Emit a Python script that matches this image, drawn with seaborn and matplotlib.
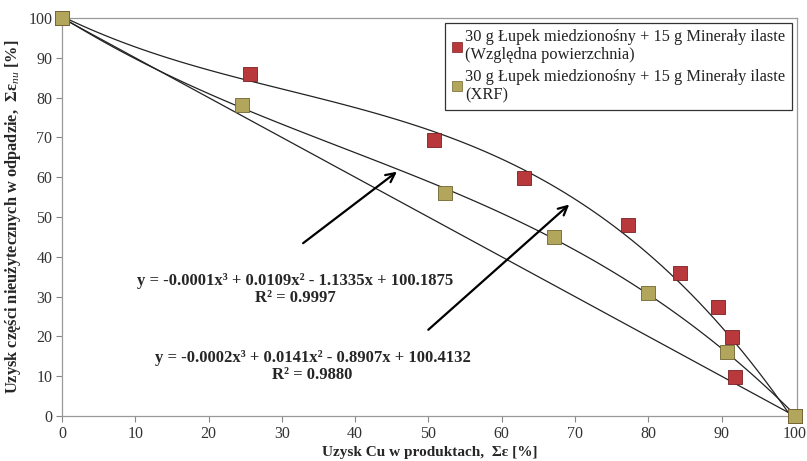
import numpy as np
import pandas as pd
import matplotlib
matplotlib.use("Agg")
import matplotlib.pyplot as plt
import seaborn as sns
from matplotlib.lines import Line2D

# ---- data ----
red_x = [0, 25.6, 50.7, 63.1, 77.3, 84.3, 89.5, 91.4, 91.8, 100]
red_y = [100, 86.0, 69.4, 59.9, 48.0, 36.0, 27.3, 19.8, 9.7, 0]
olive_x = [0, 24.5, 52.2, 67.1, 80.0, 90.7, 100]
olive_y = [100, 78.2, 56.0, 44.9, 31.0, 16.2, 0]
diag_x = [0, 100]
diag_y = [100, 0]

label_red = "30 g Łupek miedzionośny + 15 g Minerały ilaste\n(Względna powierzchnia)"
label_olive = "30 g Łupek miedzionośny + 15 g Minerały ilaste\n(XRF)"
eq_olive = "y = -0.0001x³ + 0.0109x² - 1.1335x + 100.1875\nR² = 0.9997"
eq_red = "y = -0.0002x³ + 0.0141x² - 0.8907x + 100.4132\nR² = 0.9880"
xlabel = "Uzysk Cu w produktach,  Σε [%]"
ylabel = "Uzysk części nieużytecznych w odpadzie,  Σε$_{nu}$ [%]"
x_ticks = list(range(0, 101, 10))
y_ticks = list(range(0, 101, 10))

sns.set_theme(style="white")
plt.rcParams['font.family'] = ['Liberation Serif', 'DejaVu Serif']
plt.rcParams['mathtext.fontset'] = 'custom'
plt.rcParams['mathtext.rm'] = 'Liberation Serif'
plt.rcParams['mathtext.bf'] = 'Liberation Serif:bold'
plt.rcParams['mathtext.it'] = 'Liberation Serif:italic'

RED = "#b8383c"
RED_E = "#7a1f22"
OLV = "#b2a55c"
OLV_E = "#6e6530"

fig = plt.figure(figsize=(8.07, 4.61), dpi=100)
ax = fig.add_axes([62/807, 1-416/461, (797-62)/807, (416-18)/461])

df_red = pd.DataFrame({"x": red_x, "y": red_y})
df_olv = pd.DataFrame({"x": olive_x, "y": olive_y})

# straight reference line
sns.lineplot(x=diag_x, y=diag_y, ax=ax, color="#222222", lw=0.9, zorder=2)
# cubic trend lines
sns.regplot(data=df_red, x="x", y="y", order=3, ci=None, scatter=False, ax=ax,
            truncate=True, line_kws=dict(color="#222222", lw=0.9, zorder=2))
sns.regplot(data=df_olv, x="x", y="y", order=3, ci=None, scatter=False, ax=ax,
            truncate=True, line_kws=dict(color="#222222", lw=0.9, zorder=2))

sns.scatterplot(data=df_red, x="x", y="y", ax=ax, marker="s", s=95, color=RED,
                edgecolor=RED_E, linewidth=0.6, zorder=4, clip_on=False)
sns.scatterplot(data=df_olv, x="x", y="y", ax=ax, marker="s", s=95, color=OLV,
                edgecolor=OLV_E, linewidth=0.6, zorder=5, clip_on=False)

ax.set_xlim(0, 100.3)
ax.set_ylim(0, 100)
ax.set_xticks(x_ticks)
ax.set_yticks(y_ticks)
ax.set_xlabel(xlabel, fontsize=11, fontweight="bold", labelpad=3)
ax.set_ylabel(ylabel, fontsize=11.8, fontweight="bold", labelpad=4)
ax.tick_params(axis="both", direction="out", length=4, width=0.8, color="#888888",
               labelsize=11.5, labelcolor="#333333", pad=3)
ax.tick_params(left=True, bottom=True)
for s in ax.spines.values():
    s.set_color("#999999")
    s.set_linewidth(0.9)

# arrows
ax.annotate("", xy=(46.0, 61.8), xytext=(32.6, 43.0),
            arrowprops=dict(arrowstyle="->", color="black", lw=1.6, mutation_scale=16))
ax.annotate("", xy=(69.5, 53.6), xytext=(49.7, 21.2),
            arrowprops=dict(arrowstyle="->", color="black", lw=1.6, mutation_scale=16))

ax.text(31.8, 31.8, eq_olive, ha="center", va="center", fontsize=12, fontweight="bold",
        linespacing=1.05)
ax.text(34.2, 12.4, eq_red, ha="center", va="center", fontsize=12, fontweight="bold",
        linespacing=1.05)

handles = [Line2D([], [], marker="s", ls="none", markersize=7.5, markerfacecolor=RED,
                  markeredgecolor=RED_E, markeredgewidth=0.5),
           Line2D([], [], marker="s", ls="none", markersize=7.5, markerfacecolor=OLV,
                  markeredgecolor=OLV_E, markeredgewidth=0.5)]
leg = ax.legend(handles, [label_red, label_olive], loc="upper right",
                bbox_to_anchor=(0.993, 0.988), fontsize=11.8, frameon=True,
                fancybox=False, edgecolor="black", handlelength=0.7,
                handletextpad=0.15, borderpad=0.4, labelspacing=0.35,
                borderaxespad=0.0)
leg.get_frame().set_linewidth(0.9)
for t in leg.get_texts():
    t.set_color("#222222")
    t.set_linespacing(1.17)

fig.savefig("out.png", dpi=100)
